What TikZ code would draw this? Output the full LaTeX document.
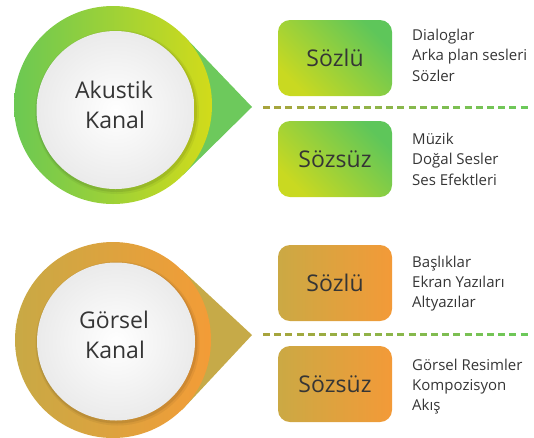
\documentclass[tikz,border=0pt]{standalone}
\usepackage{fontspec}
\setmainfont{Open Sans}
\definecolor{gA}{HTML}{6BC853}
\definecolor{yA}{HTML}{D2DB1A}
\definecolor{gT}{HTML}{6DC95C}
\definecolor{gB}{HTML}{5EC65A}
\definecolor{yB}{HTML}{C9D921}
\definecolor{kA}{HTML}{C8A945}
\definecolor{oA}{HTML}{F39C37}
\definecolor{kT}{HTML}{C6AA48}
\definecolor{oB}{HTML}{F39A38}
\definecolor{kB}{HTML}{CBA944}
\definecolor{dL}{HTML}{A8A43C}
\definecolor{dR}{HTML}{6CC95A}
\definecolor{txt}{HTML}{353535}
\tikzset{
  wcirc/.style={circle, minimum size=158pt, inner sep=0pt, inner color=white, outer color=black!8},
  ctext/.style={font=\fontsize{23}{28}\selectfont, text=txt, anchor=base, inner sep=0pt},
  gbox/.style={rounded corners=12pt, minimum width=114pt, minimum height=76pt, inner sep=0pt,
    font=\fontsize{23}{28}\selectfont, text=txt, left color=yB, right color=gB, shading angle=135},
  obox/.style={gbox, left color=kB, right color=oB},
  side/.style={font=\fontsize{15}{18}\selectfont, text=txt, anchor=base west, inner sep=0pt},
  dashseg/.style={line width=3pt}
}
\begin{document}
\begin{tikzpicture}[x=1pt,y=-1pt]
\useasboundingbox (0,0) rectangle (534,437);
% ---------- top: Akustik ----------
\fill[gT] (252,107) -- (183.5,35.5) -- (113,105) -- (183.5,174.5) -- cycle;
\shade[left color=gA, middle color=gA, right color=yA] (113,105) circle (99);
\fill[black,opacity=.05] (117,112) circle (82);
\fill[black,opacity=.08] (116.5,111.5) circle (80.5);
\node[wcirc] (ak) at (115.5,110) {};
\node[ctext] (ak1) at (114,98) {Akustik};
\node[ctext] (ak2) at (115,128) {Kanal};
\node[gbox] (as1) at (335,58) {Sözlü};
\node[gbox] (as2) at (335,159) {Sözsüz};
\foreach \i in {0,...,23} {
  \pgfmathsetmacro\xa{263+\i*11.2}
  \pgfmathtruncatemacro\t{100*\i/23}
  \draw[dashseg, dR!\t!dL] (\xa,107.5) -- ++(7,0);
}
\node[side] (at1) at (412,40) {Dialoglar};
\node[side] (at2) at (412,60.5) {Arka plan sesleri};
\node[side] (at3) at (412,81) {Sözler};
\node[side] (at4) at (412,144) {Müzik};
\node[side] (at5) at (412,164.5) {Doğal Sesler};
\node[side] (at6) at (412,185) {Ses Efektleri};
% ---------- bottom: Görsel ----------
\fill[kT] (252,335) -- (182,270) -- (113,340) -- (182,410) -- cycle;
\shade[left color=kA, middle color=kA, right color=oA] (113,340) circle (98);
\fill[black,opacity=.05] (117.5,343.5) circle (82);
\fill[black,opacity=.08] (117,343) circle (80.5);
\node[wcirc] (go) at (116,341.5) {};
\node[ctext] (go1) at (114,328) {Görsel};
\node[ctext] (go2) at (115,358) {Kanal};
\node[obox] (gs1) at (335,283) {Sözlü};
\node[obox] (gs2) at (335,384) {Sözsüz};
\foreach \i in {0,...,23} {
  \pgfmathsetmacro\xa{263+\i*11.2}
  \pgfmathtruncatemacro\t{100*\i/23}
  \draw[dashseg, dR!\t!dL] (\xa,334) -- ++(7,0);
}
\node[side] (gt1) at (412,267) {Başlıklar};
\node[side] (gt2) at (412,287) {Ekran Yazıları};
\node[side] (gt3) at (412,307) {Altyazılar};
\node[side] (gt4) at (412,370) {Görsel Resimler};
\node[side] (gt5) at (412,390) {Kompozisyon};
\node[side] (gt6) at (412,410) {Akış};
\end{tikzpicture}
\end{document}
